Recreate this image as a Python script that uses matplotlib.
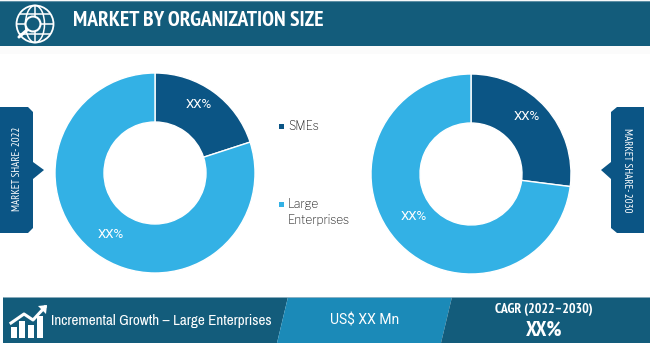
import numpy as np
import matplotlib
matplotlib.use('Agg')
import matplotlib.pyplot as plt
from matplotlib.patches import Polygon, Circle, Rectangle, Ellipse

# chart values
segments = ["SMEs", "Large\nEnterprises"]
share_2022 = [20, 80]
share_2030 = [27, 73]
share_label = "XX%"
title = "MARKET BY ORGANIZATION SIZE"
tag_2022 = "MARKET SHARE- 2022"
tag_2030 = "MARKET SHARE- 2030"
growth_text = "Incremental Growth \u2013 Large Enterprises"
value_text = "US$ XX Mn"
cagr_title = "CAGR (2022\u20132030)"
cagr_value = "XX%"

# colours
HEAD = "#135C7B"
MID = "#1B8AB8"
DARK = "#0B5585"
LIGHT = "#33B1E5"
pie_colors = [DARK, LIGHT]

# fonts
NARROW = ['Archivo Narrow', 'PT Sans Narrow', 'Roboto', 'DejaVu Sans']
HEAVY = ['PT Sans Narrow', 'Roboto', 'DejaVu Sans']
PLAIN = ['Roboto', 'DejaVu Sans']
BOOK = ['Libre Franklin', 'Roboto', 'DejaVu Sans']

W, H = 650, 354
plt.rcParams['font.family'] = NARROW

fig = plt.figure(figsize=(W / 100, H / 100), dpi=100)
bg = fig.add_axes([0, 0, 1, 1])
bg.set_xlim(0, W)
bg.set_ylim(H, 0)
bg.axis('off')


def poly(pts, color, z=1):
    bg.add_patch(Polygon(pts, closed=True, fc=color, ec='none', zorder=z))


def donut(cx, cy, r, values):
    ax = fig.add_axes([(cx - r - 1) / W, 1 - (cy + r + 1) / H, (2 * r + 2) / W, (2 * r + 2) / H])
    ax.pie(values, colors=pie_colors, startangle=90, counterclock=False, radius=1.0,
           wedgeprops=dict(width=0.49, edgecolor='white', linewidth=1))
    ax.set_xlim(-1.01, 1.01)
    ax.set_ylim(-1.01, 1.01)
    return ax


# header band
poly([(0, 1), (W, 1), (W, 46), (0, 46)], HEAD)
bg.plot([0, W], [1, 1], color="#5E8FA5", lw=0.8)
bg.add_patch(Rectangle((0, 46), W, 8, fc="#FBFBFB", ec='none', zorder=0))
bg.text(73, 20.5, title, color='white', fontsize=15.5, fontweight='bold', family=HEAVY, va='center', ha='left')

# globe + magnifier icon
gx, gy = 35, 24
bg.add_patch(Circle((gx, gy), 18.5, fc='none', ec='white', lw=1.3, zorder=2))
bg.add_patch(Ellipse((gx, gy), 19, 37, fc='none', ec='white', lw=1.1, zorder=2))
bg.plot([gx, gx], [gy - 18, gy + 18], color='white', lw=1.1, zorder=2)
bg.plot([gx - 18, gx + 18], [gy, gy], color='white', lw=1.1, zorder=2)
bg.plot([gx - 15, gx + 15], [gy - 10, gy - 10], color='white', lw=1.1, zorder=2)
bg.plot([gx - 15, gx + 15], [gy + 10, gy + 10], color='white', lw=1.1, zorder=2)
bg.add_patch(Circle((33, 24), 7.5, fc=HEAD, ec='white', lw=1.5, zorder=3))
bg.plot([27, 19], [30, 37], color='white', lw=2.2, zorder=3, solid_capstyle='round')

# side tags
poly([(0, 107), (28, 107), (33, 112), (33, 162), (44, 170), (33, 179), (33, 228), (28, 233), (0, 233)], DARK)
bg.text(17, 169, tag_2022, color='white', fontsize=7.8, family=HEAVY, rotation=90, va='center', ha='center')
poly([(644, 107), (617, 107), (611, 112), (611, 162), (601, 170), (611, 179), (611, 228), (617, 233), (644, 233)], DARK)
bg.text(627, 170, tag_2030, color='white', fontsize=7.8, family=HEAVY, rotation=270, va='center', ha='center')

# donuts
donut(155, 173, 100, share_2022)
donut(471, 174, 100, share_2030)

# legend
for i, (name, ym) in enumerate(zip(segments, [126.5, 204])):
    bg.add_patch(Rectangle((279, ym - 2.5), 5, 5, fc=pie_colors[i], ec='none'))
    if '\n' in name:
        bg.text(288, ym - 5.5, name, color='#111111', fontsize=8.5, family=BOOK, va='top', ha='left', linespacing=1.35)
    else:
        bg.text(288, ym - 0.5, name, color='#111111', fontsize=8.5, family=BOOK, va='center', ha='left')

# footer
poly([(3, 297), (288, 297), (277, 343), (3, 343)], HEAD)
poly([(288, 297), (452, 297), (441, 343), (277, 343)], MID)
poly([(452, 297), (W, 297), (W, 343), (441, 343)], HEAD)
bg.plot([3, W], [297, 297], color="#9FBBC8", lw=0.6)

# growth icon
for x0, bar_top in zip([11, 19, 28, 37], [327, 321, 325, 316]):
    bg.add_patch(Rectangle((x0, bar_top), 6, 338 - bar_top, fc='white', ec='none', zorder=2))
bg.plot([11, 24, 33, 45], [323, 314, 320, 307], color='white', lw=2.2, zorder=3)
poly([(38, 306), (47, 305), (46, 314)], 'white', 3)

bg.text(51, 321, growth_text, color='white', fontsize=10.9, va='center', ha='left')
bg.text(330, 321, value_text, color='white', fontsize=10, family=PLAIN, va='center', ha='left')
bg.text(544, 309, cagr_title, color='white', fontsize=10, fontweight='bold', family=HEAVY, va='center', ha='center')
bg.text(544, 330, cagr_value, color='white', fontsize=15, fontweight='bold', family=HEAVY, va='center', ha='center')

# donut value labels, on top of the pies
top = fig.add_axes([0, 0, 1, 1], facecolor='none')
top.set_xlim(0, W)
top.set_ylim(H, 0)
top.axis('off')
for lx, ly in [(199, 105), (111, 235), (527, 117), (414, 217)]:
    top.text(lx, ly, share_label, color='white', fontsize=9.5, family=PLAIN, va='center', ha='center')

fig.savefig("out.png", dpi=100)
